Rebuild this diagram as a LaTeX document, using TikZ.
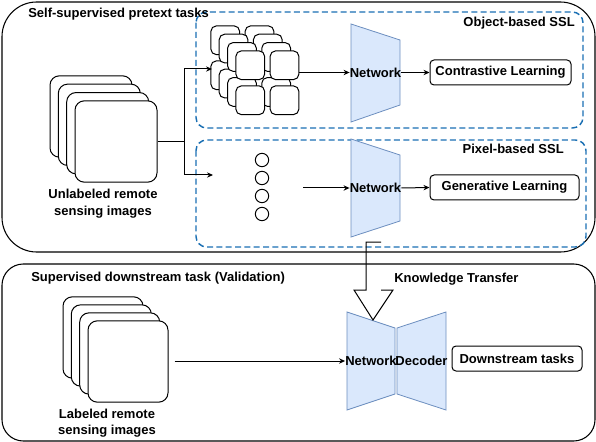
\documentclass[tikz,border=0pt]{standalone}
\usepackage{fontspec}
\setmainfont{Liberation Sans}
\usetikzlibrary{arrows.meta,shapes.geometric}
\definecolor{ssl}{HTML}{1A6FB3}
\definecolor{netfill}{HTML}{DAE8FC}
\definecolor{netline}{HTML}{6C8EBF}
\begin{document}
\begin{tikzpicture}[x=0.75pt,y=-0.75pt,
  font=\fontsize{9.75}{12.5}\selectfont\bfseries,
  outerbox/.style={draw=black,line width=0.8pt},
  sslbox/.style={draw=ssl,line width=1.1pt,dash pattern=on 4.5pt off 2.5pt,rounded corners=8pt},
  bigimg/.style={draw=black,fill=white,line width=0.75pt,rounded corners=7pt,minimum width=61.5pt,minimum height=61pt,inner sep=0pt},
  smallimg/.style={draw=black,fill=white,line width=0.75pt,rounded corners=4pt,minimum width=21.5pt,minimum height=21.5pt,inner sep=0pt},
  dot/.style={draw=black,circle,line width=0.75pt,minimum size=10pt,inner sep=0pt},
  netshape/.style={draw=netline,fill=netfill,line width=0.6pt},
  nettext/.style={inner sep=0pt,minimum height=20pt},
  taskbox/.style={draw=black,line width=0.75pt,rounded corners=3pt,inner sep=0pt,minimum height=18.75pt},
  lbl/.style={inner sep=0pt,align=center},
  arr/.style={draw=black,line width=0.75pt,-{Stealth[length=4.5pt,width=4pt]}},
  ln/.style={draw=black,line width=0.75pt}]
\useasboundingbox (0,0) rectangle (596,442);
% outer boxes
\draw[outerbox,rounded corners=26pt] (2,2) rectangle (595,252);
\draw[outerbox,rounded corners=16pt] (2,264) rectangle (595,441);
% SSL dashed boxes
\draw[sslbox] (196,12) rectangle (583,128);
\draw[sslbox] (196,140) rectangle (586,247);
% titles
\node[lbl,anchor=west] (t1) at (28,14) {Self-supervised pretext tasks};
\node[lbl,anchor=east] (t2) at (575,23) {Object-based SSL};
\node[lbl,anchor=east] (t3) at (564,149) {Pixel-based SSL};
\node[lbl,anchor=west] (t4) at (31,278) {Supervised downstream task (Validation)};
\node[lbl,anchor=west] (t5) at (394,279) {Knowledge Transfer};
% unlabeled stack
\node[bigimg] (u1) at (91,116.5) {};
\node[bigimg] (u2) at (99.3,124.8) {};
\node[bigimg] (u3) at (107.7,133.2) {};
\node[bigimg] (unl) at (116,141.5) {};
\node[lbl] (unlt) at (103,204) {Unlabeled remote\\sensing images};
% labeled stack
\node[bigimg,minimum width=60pt] (l1) at (103,337.5) {};
\node[bigimg,minimum width=60pt] (l2) at (111.3,345.5) {};
\node[bigimg,minimum width=60pt] (l3) at (119.7,353.5) {};
\node[bigimg,minimum width=60pt] (lab) at (128,361.5) {};
\node[lbl] (labt) at (107,423) {Labeled remote\\sensing images};
% grid of small image stacks
\foreach \k/\ox/\oy in {0/211/26,1/219.3/34.3,2/227.7/42.7,3/236/51}{
  \node[smallimg] (g\k a) at (\ox+14.25,\oy+14.25) {};
  \node[smallimg] (g\k b) at (\ox+48.5,\oy+14.25) {};
  \node[smallimg] (g\k c) at (\ox+14.25,\oy+49.25) {};
  \node[smallimg] (g\k d) at (\ox+48.5,\oy+49.25) {};
}
% pixels
\node[dot] (c1) at (262,160) {};
\node[dot] (c2) at (262,178) {};
\node[dot] (c3) at (262,196) {};
\node[dot] (c4) at (262,214) {};
% networks
\draw[netshape] (351,24) -- (400,40) -- (400,105) -- (351,122) -- cycle;
\draw[netshape] (351,139) -- (400,155) -- (400,221) -- (351,237) -- cycle;
\draw[netshape] (347,312) -- (395,328) -- (395,394) -- (347,410) -- cycle;
\draw[netshape] (397,328) -- (446,312) -- (446,410) -- (397,394) -- cycle;
\node[nettext] (net1) at (375.5,72.5) {Network};
\node[nettext] (net2) at (375.5,188) {Network};
\node[nettext] (net3) at (371,361) {Network};
\node[nettext] (dec) at (421.5,361) {Decoder};
% task boxes
\node[taskbox,minimum width=105.75pt] (cl) at (500.5,72.5) {Contrastive Learning};
\node[taskbox,minimum width=111.75pt] (gl) at (504.5,187.5) {Generative Learning};
\node[taskbox,minimum width=97.5pt] (dt) at (517,358.5) {Downstream tasks};
% connectors
\coordinate (split) at (184,142);
\coordinate (gridin) at (212,69);
\coordinate (pixin) at (213,175);
\coordinate (pixout) at (303,188);
\draw[ln] (unl.east |- split) -- (split);
\draw[arr] (split) |- (gridin);
\draw[arr] (split) |- (pixin);
\draw[arr] (g3b.east |- net1.west) -- (net1.west);
\draw[arr] (net1.east) -- (cl.west);
\draw[arr] (pixout) -- (net2.west);
\draw[arr] (net2.east) -- (gl.west);
\draw[arr] (lab.east |- net3.west) ++(6,0) -- (net3.west);
% knowledge transfer arrow
\coordinate (kttip) at (373,320);
\draw[line width=0.75pt,line join=miter] (381,242) -- (366,242) -- (366,290) -- (354,290) -- (kttip) -- (393,290) -- (381,290);
\end{tikzpicture}
\end{document}
